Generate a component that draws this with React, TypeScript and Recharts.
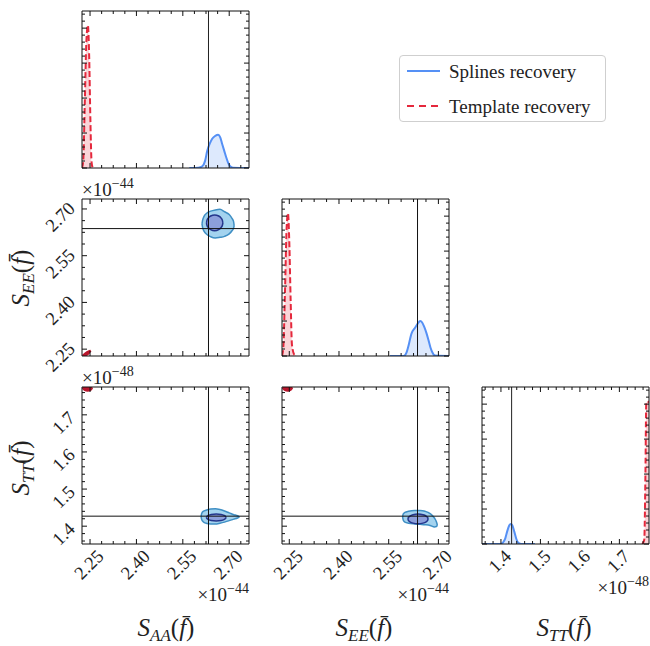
import React from "react";
import { Area, ComposedChart, ReferenceLine, XAxis, YAxis } from "recharts";

const FONT = '"Liberation Serif", "Times New Roman", serif';
const BLUE = "#5590f5";
const RED = "#e5283c";
const DARK_RED = "#b8162c";
const OUTER_FILL = "#a3d3ef";
const OUTER_EDGE = "#3f8fc4";
const INNER_FILL = "#8c9fdb";
const INNER_EDGE = "#24368c";

// injected values (A, E in units of 1e-44, T in units of 1e-48)
const truthA = 2.633;
const truthE = 2.637;
const truthT = 1.427;

const domainA = [2.224, 2.764];
const domainE = [2.228, 2.732];
const domainT = [1.352, 1.775];
const domainDiag = [0, 1.1];

const majorsAE = [2.25, 2.4, 2.55, 2.7];
const labelsAE = ["2.25", "2.40", "2.55", "2.70"];
const majorsT = [1.4, 1.5, 1.6, 1.7];
const labelsT = ["1.4", "1.5", "1.6", "1.7"];
const majorsDiag = [0, 0.245, 0.49, 0.735, 0.98];

// 1D marginals (normalised so the template peak is 1)
const splinesAx = [2.571, 2.6, 2.613, 2.622, 2.629, 2.637, 2.645, 2.655, 2.664, 2.671, 2.677, 2.684, 2.69, 2.696, 2.702, 2.712, 2.764];
const splinesAd = [0, 0.002, 0.012, 0.05, 0.12, 0.17, 0.205, 0.225, 0.233, 0.215, 0.17, 0.12, 0.077, 0.04, 0.015, 0.002, 0];
const templateAx = [2.224, 2.228, 2.233, 2.238, 2.243, 2.247, 2.251, 2.255, 2.259];
const templateAd = [0, 0.05, 0.45, 0.88, 1.0, 0.8, 0.35, 0.04, 0];

const splinesEx = [2.554, 2.595, 2.603, 2.609, 2.619, 2.629, 2.637, 2.645, 2.651, 2.657, 2.664, 2.67, 2.676, 2.682, 2.69, 2.732];
const splinesEd = [0, 0, 0.02, 0.065, 0.159, 0.196, 0.225, 0.245, 0.235, 0.205, 0.16, 0.112, 0.06, 0.025, 0.003, 0];
const templateEx = [2.228, 2.232, 2.237, 2.242, 2.246, 2.25, 2.254, 2.258, 2.265, 2.273];
const templateEd = [0, 0.06, 0.45, 0.9, 1.0, 0.8, 0.4, 0.08, 0.01, 0];

const splinesTx = [1.352, 1.398, 1.405, 1.411, 1.416, 1.421, 1.425, 1.429, 1.434, 1.439, 1.444, 1.452, 1.486];
const splinesTd = [0, 0, 0.01, 0.04, 0.09, 0.13, 0.141, 0.13, 0.085, 0.035, 0.008, 0, 0];
const templateTx = [1.758, 1.763, 1.766, 1.768, 1.771, 1.775];
const templateTd = [0, 0.03, 0.5, 0.98, 1.0, 0.99];

// 2D credible regions: x, lower and upper edge
const outerAEx = [2.612, 2.614, 2.619, 2.628, 2.64, 2.655, 2.67, 2.685, 2.7, 2.709, 2.714, 2.716];
const outerAElo = [2.652, 2.64, 2.628, 2.618, 2.611, 2.607, 2.609, 2.612, 2.62, 2.63, 2.638, 2.646];
const outerAEhi = [2.652, 2.664, 2.677, 2.687, 2.693, 2.697, 2.699, 2.691, 2.682, 2.67, 2.66, 2.646];
const innerAEx = [2.6265, 2.628, 2.632, 2.64, 2.653, 2.666, 2.674, 2.678, 2.6795];
const innerAElo = [2.6555, 2.6475, 2.6405, 2.6335, 2.63, 2.6335, 2.6405, 2.6475, 2.6555];
const innerAEhi = [2.6555, 2.6635, 2.6705, 2.6775, 2.681, 2.6775, 2.6705, 2.6635, 2.6555];

const outerATx = [2.609, 2.611, 2.616, 2.625, 2.64, 2.655, 2.67, 2.685, 2.7, 2.715, 2.727, 2.733];
const outerATlo = [1.426, 1.418, 1.412, 1.408, 1.406, 1.406, 1.408, 1.411, 1.415, 1.419, 1.422, 1.425];
const outerAThi = [1.426, 1.434, 1.44, 1.443, 1.446, 1.447, 1.445, 1.441, 1.436, 1.431, 1.428, 1.425];
const innerATx = [2.626, 2.628, 2.633, 2.642, 2.658, 2.674, 2.683, 2.688, 2.69];
const innerATlo = [1.4235, 1.4205, 1.4178, 1.4153, 1.414, 1.4153, 1.4178, 1.4205, 1.4235];
const innerAThi = [1.4235, 1.4265, 1.4292, 1.4317, 1.433, 1.4317, 1.4292, 1.4265, 1.4235];

const outerETx = [2.592, 2.594, 2.599, 2.61, 2.628, 2.645, 2.66, 2.675, 2.688, 2.694, 2.697];
const outerETlo = [1.425, 1.416, 1.411, 1.408, 1.406, 1.405, 1.404, 1.402, 1.398, 1.399, 1.403];
const outerEThi = [1.425, 1.433, 1.437, 1.44, 1.442, 1.442, 1.44, 1.434, 1.422, 1.412, 1.403];
const innerETx = [2.608, 2.6095, 2.6141, 2.6233, 2.6385, 2.6538, 2.6629, 2.6675, 2.669];
const innerETlo = [1.4195, 1.4155, 1.4117, 1.4082, 1.4065, 1.4082, 1.4117, 1.4155, 1.4195];
const innerEThi = [1.4195, 1.4235, 1.4273, 1.4308, 1.4325, 1.4308, 1.4273, 1.4235, 1.4195];

// template recovery 2D blobs
const redAEx = [2.226, 2.235, 2.245, 2.252];
const redAElo = [2.229, 2.23, 2.236, 2.245];
const redAEhi = [2.229, 2.237, 2.243, 2.245];
const redATx = [2.226, 2.232, 2.242, 2.252, 2.257];
const redATlo = [1.773, 1.767, 1.765, 1.767, 1.773];
const redAThi = [1.773, 1.775, 1.775, 1.775, 1.773];
const redETx = [2.23, 2.236, 2.245, 2.254, 2.259];
const redETlo = [1.773, 1.767, 1.765, 1.767, 1.773];
const redEThi = [1.773, 1.775, 1.775, 1.775, 1.773];

const toCurve = (xs: number[], ds: number[]) => xs.map((x, i) => ({ x, d: ds[i] }));
const toBand = (xs: number[], lo: number[], hi: number[]) => xs.map((x, i) => ({ x, r: [lo[i], hi[i]] }));

const steps = (dom: number[], start: number, step: number) => {
  const out: number[] = [];
  let k = Math.ceil((dom[0] - start) / step - 1e-9);
  for (;;) {
    const v = +(start + k * step).toFixed(6);
    if (v > dom[1] + 1e-9) break;
    out.push(v);
    k++;
  }
  return out;
};

const ticksA = steps(domainA, 2.25, 0.0375);
const ticksE = steps(domainE, 2.25, 0.0375);
const ticksT = steps(domainT, 1.4, 0.02);
const ticksDiag = steps(domainDiag, 0, 0.049);

const COL_X = [82, 282, 482];
const ROW_Y = [11, 199, 387];
const PW = 167;
const PH = 157;
const M = { top: 12, right: 12, bottom: 60, left: 60 };
const TICK_FS = 18.5;

const estWidth = (s: string) => s.split("").reduce((a, c) => a + (c === "." ? 0.25 : 0.5) * TICK_FS, 0);

const makeTick = (side: string, majors: number[], labels?: string[]) => (props: any) => {
  const { x, y, payload } = props;
  const v = payload.value;
  const mi = majors.findIndex((m) => Math.abs(m - v) < 1e-6);
  const len = mi >= 0 ? 5 : 3;
  let line = null;
  if (side === "bottom") line = <line x1={x} x2={x} y1={y} y2={y - len} />;
  if (side === "top") line = <line x1={x} x2={x} y1={y} y2={y + len} />;
  if (side === "left") line = <line x1={x} x2={x + len} y1={y} y2={y} />;
  if (side === "right") line = <line x1={x} x2={x - len} y1={y} y2={y} />;
  let text = null;
  if (labels && mi >= 0) {
    const s = labels[mi];
    const half = (estWidth(s) + 12) / (2 * Math.SQRT2);
    const cx = side === "bottom" ? x - 1 : x - 6 - half;
    const cy = side === "bottom" ? y + 5 + half : y + 8;
    text = (
      <text x={cx} y={cy} transform={`rotate(-45 ${cx} ${cy})`} textAnchor="middle" dominantBaseline="central" fontFamily={FONT} fontSize={TICK_FS} fill="#222">
        {s}
      </text>
    );
  }
  return (
    <g>
      <g stroke="#111" strokeWidth={1}>{line}</g>
      {text}
    </g>
  );
};

type PanelProps = {
  col: number;
  row: number;
  xDomain: number[];
  yDomain: number[];
  xTicks: number[];
  yTicks: number[];
  xMajors: number[];
  yMajors: number[];
  xLabels?: string[];
  yLabels?: string[];
  children: React.ReactNode;
};

const axisLine = { stroke: "#111", strokeWidth: 1 };

// axes are 1px thick (a 0px axis is not drawn), so the plot area sits one pixel in
const Panel = ({ col, row, xDomain, yDomain, xTicks, yTicks, xMajors, yMajors, xLabels, yLabels, children }: PanelProps) => (
  <div style={{ position: "absolute", left: COL_X[col] - M.left - 1, top: ROW_Y[row] - M.top - 1 }}>
    <ComposedChart width={PW + M.left + M.right + 2} height={PH + M.top + M.bottom + 2} margin={M}>
      <XAxis xAxisId={0} dataKey="x" type="number" domain={xDomain} allowDataOverflow ticks={xTicks} interval={0} height={1} tickSize={0} tickMargin={0} tickLine={false} axisLine={axisLine} tick={makeTick("bottom", xMajors, xLabels)} />
      <XAxis xAxisId="top" orientation="top" dataKey="x" type="number" domain={xDomain} allowDataOverflow ticks={xTicks} interval={0} height={1} tickSize={0} tickMargin={0} tickLine={false} axisLine={axisLine} tick={makeTick("top", xMajors)} />
      <YAxis yAxisId={0} type="number" domain={yDomain} allowDataOverflow ticks={yTicks} interval={0} width={1} tickSize={0} tickMargin={0} tickLine={false} axisLine={axisLine} tick={makeTick("left", yMajors, yLabels)} />
      <YAxis yAxisId="right" orientation="right" type="number" domain={yDomain} allowDataOverflow ticks={yTicks} interval={0} width={1} tickSize={0} tickMargin={0} tickLine={false} axisLine={axisLine} tick={makeTick("right", yMajors)} />
      {children}
    </ComposedChart>
  </div>
);

const splinesCurve = (xs: number[], ds: number[]) => (
  <Area data={toCurve(xs, ds)} dataKey="d" type="monotone" baseValue={0} stroke={BLUE} strokeWidth={2} fill={BLUE} fillOpacity={0.2} dot={false} activeDot={false} isAnimationActive={false} />
);
const templateCurve = (xs: number[], ds: number[]) => (
  <Area data={toCurve(xs, ds)} dataKey="d" type="monotone" baseValue={0} stroke={RED} strokeWidth={2} strokeDasharray="6 3" fill={RED} fillOpacity={0.2} dot={false} activeDot={false} isAnimationActive={false} />
);
const band = (xs: number[], lo: number[], hi: number[], fill: string, stroke: string, w = 1.5) => (
  <Area data={toBand(xs, lo, hi)} dataKey="r" type="monotone" stroke={stroke} strokeWidth={w} fill={fill} fillOpacity={1} dot={false} activeDot={false} isAnimationActive={false} />
);

const Sup = ({ children }: { children: React.ReactNode }) => (
  <span style={{ fontSize: 14, position: "relative", top: -8 }}>{children}</span>
);

const Offset = ({ exp, left, right, top }: { exp: string; left?: number; right?: number; top: number }) => (
  <div style={{ position: "absolute", left, right: right !== undefined ? 650 - right : undefined, top, fontFamily: FONT, fontSize: 19, lineHeight: "19px", color: "#222", whiteSpace: "nowrap" }}>
    ×10<Sup>−{exp}</Sup>
  </div>
);

const Title = ({ sub, cx, cy, rotate }: { sub: string; cx: number; cy: number; rotate?: boolean }) => (
  <div style={{ position: "absolute", left: cx, top: cy, transform: `translate(-50%, -50%)${rotate ? " rotate(-90deg)" : ""}`, fontFamily: FONT, fontSize: 25, lineHeight: "25px", color: "#222", whiteSpace: "nowrap" }}>
    <i>S</i>
    <i style={{ fontSize: 17, position: "relative", top: 5 }}>{sub}</i>(<i>f̄</i>)
  </div>
);

export default function App() {
  return (
    <div style={{ position: "absolute", left: 0, top: 0, width: 650, height: 646, background: "#fff" }}>
      {/* diagonal: S_AA */}
      <Panel col={0} row={0} xDomain={domainA} yDomain={domainDiag} xTicks={ticksA} yTicks={ticksDiag} xMajors={majorsAE} yMajors={majorsDiag}>
        {splinesCurve(splinesAx, splinesAd)}
        {templateCurve(templateAx, templateAd)}
        <ReferenceLine x={truthA} stroke="#222" strokeWidth={1} />
      </Panel>
      {/* S_EE vs S_AA */}
      <Panel col={0} row={1} xDomain={domainA} yDomain={domainE} xTicks={ticksA} yTicks={ticksE} xMajors={majorsAE} yMajors={majorsAE} yLabels={labelsAE}>
        {band(outerAEx, outerAElo, outerAEhi, OUTER_FILL, OUTER_EDGE)}
        {band(innerAEx, innerAElo, innerAEhi, INNER_FILL, INNER_EDGE)}
        {band(redAEx, redAElo, redAEhi, DARK_RED, DARK_RED, 2)}
        <ReferenceLine x={truthA} stroke="#111" strokeWidth={1} />
        <ReferenceLine y={truthE} stroke="#111" strokeWidth={1} />
      </Panel>
      {/* diagonal: S_EE */}
      <Panel col={1} row={1} xDomain={domainE} yDomain={domainDiag} xTicks={ticksE} yTicks={ticksDiag} xMajors={majorsAE} yMajors={majorsDiag}>
        {splinesCurve(splinesEx, splinesEd)}
        {templateCurve(templateEx, templateEd)}
        <ReferenceLine x={truthE} stroke="#111" strokeWidth={1} />
      </Panel>
      {/* S_TT vs S_AA */}
      <Panel col={0} row={2} xDomain={domainA} yDomain={domainT} xTicks={ticksA} yTicks={ticksT} xMajors={majorsAE} yMajors={majorsT} xLabels={labelsAE} yLabels={labelsT}>
        {band(outerATx, outerATlo, outerAThi, OUTER_FILL, OUTER_EDGE)}
        {band(innerATx, innerATlo, innerAThi, INNER_FILL, INNER_EDGE)}
        {band(redATx, redATlo, redAThi, DARK_RED, DARK_RED, 2)}
        <ReferenceLine x={truthA} stroke="#111" strokeWidth={1} />
        <ReferenceLine y={truthT} stroke="#111" strokeWidth={1} />
      </Panel>
      {/* S_TT vs S_EE */}
      <Panel col={1} row={2} xDomain={domainE} yDomain={domainT} xTicks={ticksE} yTicks={ticksT} xMajors={majorsAE} yMajors={majorsT} xLabels={labelsAE}>
        {band(outerETx, outerETlo, outerEThi, OUTER_FILL, OUTER_EDGE)}
        {band(innerETx, innerETlo, innerEThi, INNER_FILL, INNER_EDGE)}
        {band(redETx, redETlo, redEThi, DARK_RED, DARK_RED, 2)}
        <ReferenceLine x={truthE} stroke="#111" strokeWidth={1} />
        <ReferenceLine y={truthT} stroke="#111" strokeWidth={1} />
      </Panel>
      {/* diagonal: S_TT */}
      <Panel col={2} row={2} xDomain={domainT} yDomain={domainDiag} xTicks={ticksT} yTicks={ticksDiag} xMajors={majorsT} yMajors={majorsDiag} xLabels={labelsT}>
        {splinesCurve(splinesTx, splinesTd)}
        {templateCurve(templateTx, templateTd)}
        <ReferenceLine x={truthT} stroke="#222" strokeWidth={1} />
      </Panel>

      <Offset exp="44" left={82} top={180} />
      <Offset exp="48" left={82} top={368} />
      <Offset exp="44" right={249} top={585} />
      <Offset exp="44" right={449} top={585} />
      <Offset exp="48" right={649} top={578} />

      <Title sub="AA" cx={166} cy={629} />
      <Title sub="EE" cx={364} cy={629} />
      <Title sub="TT" cx={564} cy={629} />
      <Title sub="EE" cx={22} cy={278} rotate />
      <Title sub="TT" cx={22} cy={468} rotate />

      <div style={{ position: "absolute", left: 399, top: 55, width: 207, height: 67, border: "1px solid #cfcfcf", borderRadius: 4, background: "#fff", fontFamily: FONT, fontSize: 19, lineHeight: "19px", color: "#222", boxSizing: "border-box" }}>
        <svg width={36} height={67} style={{ position: "absolute", left: 6, top: 0 }}>
          <line x1={1} x2={34} y1={15} y2={15} stroke={BLUE} strokeWidth={2} />
          <line x1={1} x2={34} y1={50} y2={50} stroke={RED} strokeWidth={2} strokeDasharray="7 5" />
        </svg>
        <div style={{ position: "absolute", left: 49, top: 6, whiteSpace: "nowrap" }}>Splines recovery</div>
        <div style={{ position: "absolute", left: 49, top: 41, whiteSpace: "nowrap" }}>Template recovery</div>
      </div>
    </div>
  );
}
